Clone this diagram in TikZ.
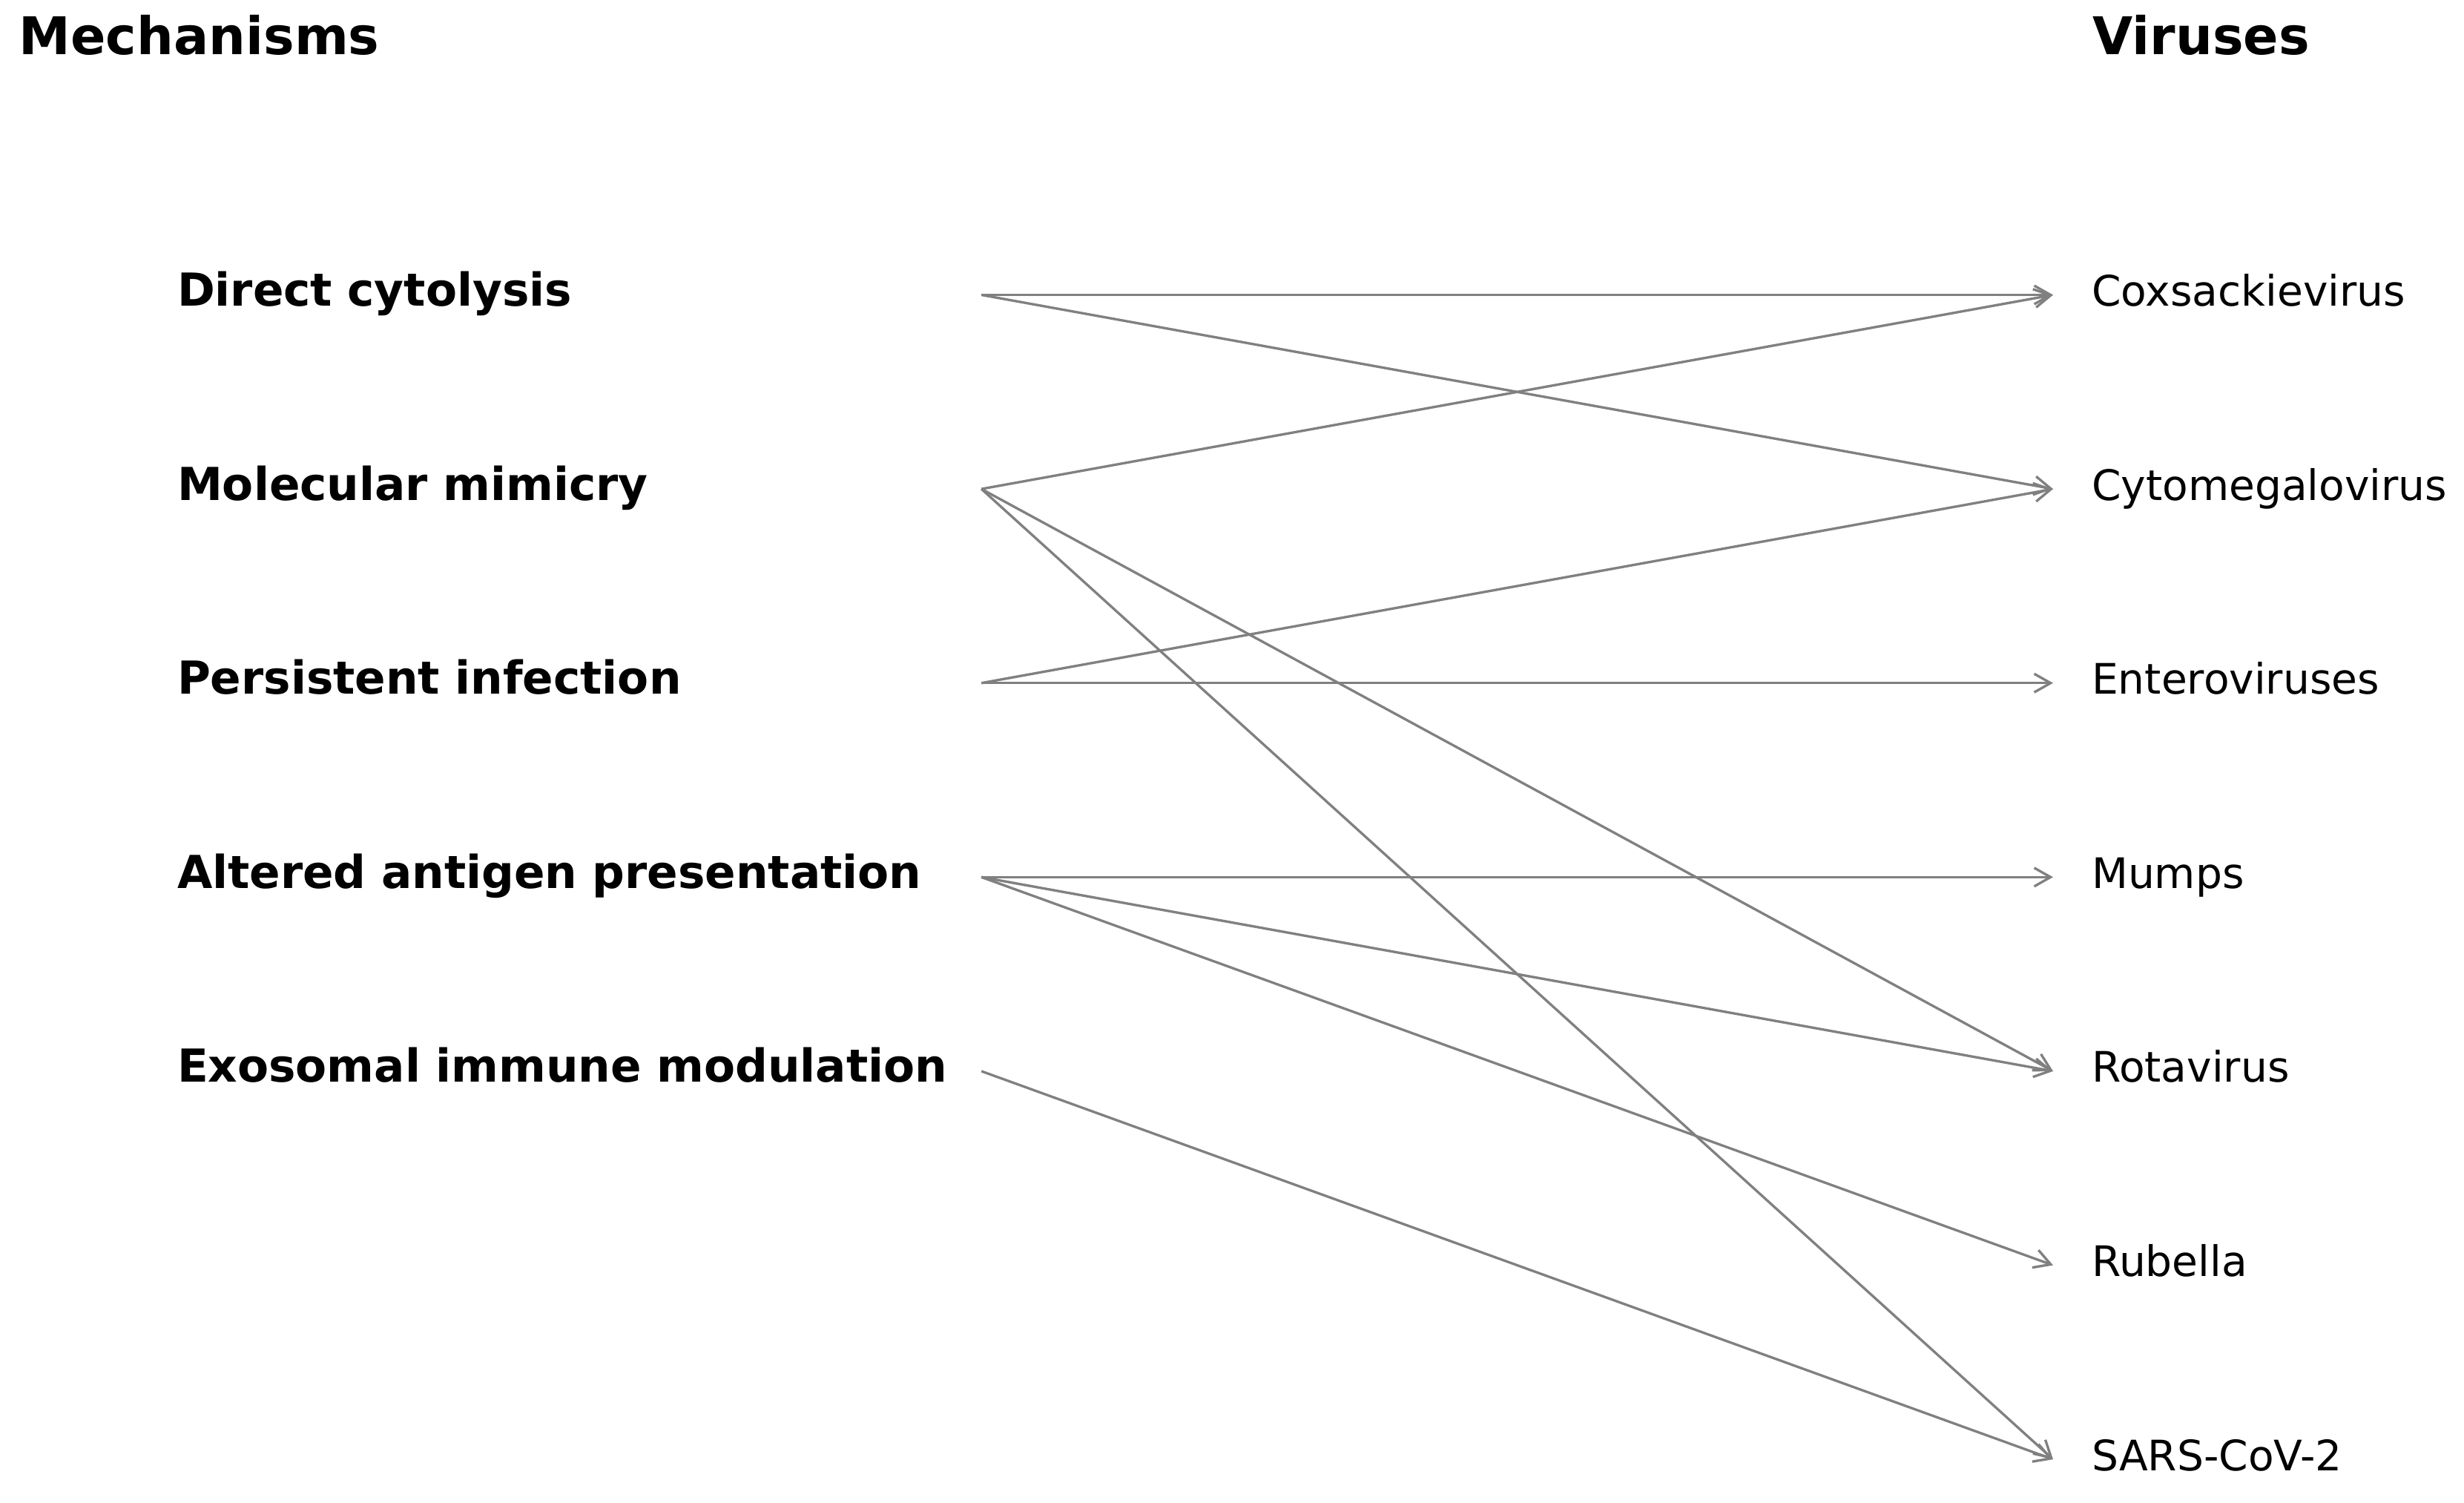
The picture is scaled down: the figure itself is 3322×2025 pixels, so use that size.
\documentclass[tikz,border=0pt]{standalone}
\usepackage{fontspec}
\setmainfont{DejaVu Sans}
\usetikzlibrary{arrows.meta}
\newcommand{\pixel}{0.24pt}
\newcommand{\rowgap}{261.6}

\begin{document}
\begin{tikzpicture}[x=\pixel,y=-\pixel,
	header/.style={anchor=base west, inner sep=0pt, font=\bfseries\fontsize{16.8}{20}\selectfont},
	mechanism/.style={anchor=west, inner sep=0pt, outer sep=0pt, text width=260.2pt, align=left,
		text height=10.6pt, text depth=3.4pt, font=\bfseries\fontsize{14.7}{18}\selectfont},
	virus/.style={anchor=west, inner sep=0pt, outer xsep=12.5pt, outer ysep=0pt,
		text height=9.6pt, text depth=2.4pt, font=\fontsize{13.6}{16}\selectfont},
	link/.style={draw=gray, line width=0.8pt, -{Straight Barb[length=5.3pt,width=6pt]}}]
	\useasboundingbox (0,0) rectangle (3322,2025);

	\node[header] (mechanisms) at (25,73) {Mechanisms};
	\node[header] (viruses) at (2821,73) {Viruses};

	% left column
	\node[mechanism] (cytolysis) at (239,397.5) {Direct cytolysis};
	\node[mechanism] (mimicry) at (239,397.5+\rowgap) {Molecular mimicry};
	\node[mechanism] (persistent) at (239,397.5+2*\rowgap) {Persistent infection};
	\node[mechanism] (antigen) at (239,397.5+3*\rowgap) {Altered antigen presentation};
	\node[mechanism] (exosomal) at (239,397.5+4*\rowgap) {Exosomal immune modulation};

	% right column
	\node[virus] (coxsackie) at (2768,397.5) {Coxsackievirus};
	\node[virus] (cmv) at (2768,397.5+\rowgap) {Cytomegalovirus};
	\node[virus] (entero) at (2768,397.5+2*\rowgap) {Enteroviruses};
	\node[virus] (mumps) at (2768,397.5+3*\rowgap) {Mumps};
	\node[virus] (rota) at (2768,397.5+4*\rowgap) {Rotavirus};
	\node[virus] (rubella) at (2768,397.5+5*\rowgap) {Rubella};
	\node[virus] (sars) at (2768,397.5+6*\rowgap) {SARS-CoV-2};

	\draw[link] (cytolysis.east) -- (coxsackie.west);
	\draw[link] (cytolysis.east) -- (cmv.west);
	\draw[link] (mimicry.east) -- (coxsackie.west);
	\draw[link] (mimicry.east) -- (rota.west);
	\draw[link] (mimicry.east) -- (sars.west);
	\draw[link] (persistent.east) -- (cmv.west);
	\draw[link] (persistent.east) -- (entero.west);
	\draw[link] (antigen.east) -- (mumps.west);
	\draw[link] (antigen.east) -- (rota.west);
	\draw[link] (antigen.east) -- (rubella.west);
	\draw[link] (exosomal.east) -- (sars.west);
\end{tikzpicture}
\end{document}
